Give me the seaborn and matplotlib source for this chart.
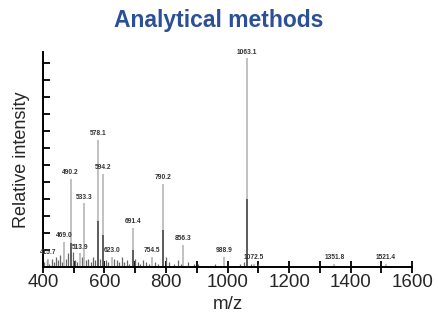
import numpy as np
import matplotlib.pyplot as plt
import seaborn as sns

# labelled peaks (m/z position, relative height, label text)
peak_mz = [416, 470, 520, 490.2, 533.3, 578.1, 594.2, 625, 691.4, 755,
           790.2, 856.3, 989, 1063.1, 1086, 1347, 1515]
peak_h = [5, 15, 8, 52, 37.5, 75, 55, 6, 23, 6, 49, 13, 6, 123, 2, 2, 2]
peak_txt = ['415.7', '469.0', '513.9', '490.2', '533.3', '578.1', '594.2', '623.0',
            '691.4', '754.5', '790.2', '856.3', '988.9', '1063.1', '1072.5',
            '1351.8', '1521.4']
# darker lower part of the big peaks
core_mz = [490.2, 578.1, 594.2, 691.4, 790.2, 1063.1]
core_h = [14, 27, 19, 10, 22, 40]
# small unlabelled peaks along the baseline
noise_mz = [405, 412, 420, 428, 435, 442, 450, 457, 463, 476, 482, 497, 503, 510,
            526, 541, 548, 556, 563, 570, 586, 605, 612, 632, 640, 648, 656, 664,
            672, 680, 700, 708, 716, 725, 735, 745, 765, 775, 800, 810, 825, 840,
            848, 870, 890, 905, 960, 1040, 1055, 1075, 1100]
noise_h = [3, 4, 2, 5, 3, 6, 4, 7, 3, 5, 8, 9, 4, 3, 6, 4, 5, 3, 6, 4, 5, 4, 3, 5,
           4, 3, 6, 3, 4, 2, 5, 3, 2, 4, 3, 2, 3, 2, 6, 3, 2, 4, 2, 3, 2, 2, 1.5,
           2, 3, 2, 1.5]

sns.set_style("ticks")
plt.rcParams['font.family'] = ['Liberation Sans', 'DejaVu Sans']

fig = plt.figure(figsize=(4.38, 3.26), dpi=100)
ax = fig.add_axes([0.098, 0.181, 0.843, 0.659])

ax.vlines(noise_mz, 0, noise_h, color='#666666', lw=0.9)
ax.vlines(peak_mz, 0, peak_h, color='#b0b0b0', lw=1.1)
ax.vlines(core_mz, 0, core_h, color='#555555', lw=1.3)
for x, h, t in zip(peak_mz, peak_h, peak_txt):
    ax.text(x, h + 1.5, t, ha='center', va='bottom', fontsize=4.8,
            color='#333333', fontweight='bold')

ax.set_xlim(400, 1600)
ax.set_ylim(0, 126.5)
ax.set_xticks(np.arange(400, 1601, 200))
ax.set_xticks(np.arange(500, 1600, 200), minor=True)
ax.set_yticks(np.arange(10, 121, 10))
ax.set_yticklabels([])
ax.tick_params(axis='x', which='both', direction='inout', length=8, width=1.3,
               labelsize=13.5, pad=1, color='black')
ax.tick_params(axis='y', direction='in', length=5, width=1.3, color='black')
sns.despine(ax=ax)
for s in ['left', 'bottom']:
    ax.spines[s].set_linewidth(1.4)
    ax.spines[s].set_color('black')

ax.set_xlabel('m/z', fontsize=13.5, labelpad=4)
ax.set_ylabel('Relative intensity', fontsize=13, labelpad=6)

fig.text(0.5, 0.938, 'Analytical methods', ha='center', va='center',
         fontsize=16.5, fontweight='bold', color='#2b4f98')

fig.savefig('out.png', dpi=100)
